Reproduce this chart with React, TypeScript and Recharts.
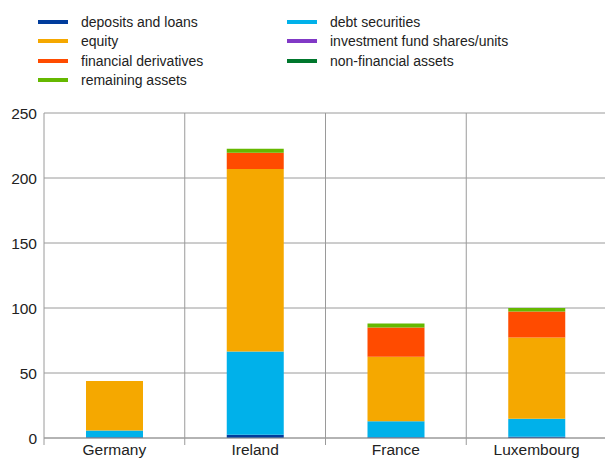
import { BarChart, Bar, XAxis, YAxis, CartesianGrid } from 'recharts';

const countries = ['Germany', 'Ireland', 'France', 'Luxembourg'];

const depositsAndLoans = [0.5, 2.5, 0.5, 1];
const debtSecurities = [5.3, 64, 12.3, 13.8];
const equity = [38, 140.5, 49.7, 62.6];
const investmentFundShares = [0, 0, 0, 0];
const financialDerivatives = [0, 12.5, 22.5, 20];
const nonFinancialAssets = [0, 0, 0, 0];
const remainingAssets = [0, 3, 3, 2.6];

const yTicks = [0, 50, 100, 150, 200, 250];

const series = [
  { key: 'deposits', name: 'deposits and loans', color: '#003c9c', values: depositsAndLoans },
  { key: 'debt', name: 'debt securities', color: '#00b1ea', values: debtSecurities },
  { key: 'equity', name: 'equity', color: '#f5a800', values: equity },
  { key: 'funds', name: 'investment fund shares/units', color: '#8139c6', values: investmentFundShares },
  { key: 'derivatives', name: 'financial derivatives', color: '#ff4b00', values: financialDerivatives },
  { key: 'nonfin', name: 'non-financial assets', color: '#00772d', values: nonFinancialAssets },
  { key: 'remaining', name: 'remaining assets', color: '#65b800', values: remainingAssets },
];

const data = countries.map((name, i) => {
  const row: Record<string, string | number> = { name };
  series.forEach((s) => {
    row[s.key] = s.values[i];
  });
  return row;
});

const gridColor = '#9a9a9a';
const textColor = '#222';
const font = '"Liberation Sans", Arial, sans-serif';

// category label plus the short tick mark at the left boundary of each category
function CountryTick(props: any) {
  const { x, y, payload } = props;
  const half = payload.offset || 0;
  const axisY = y - 6;
  return (
    <g>
      <line x1={x - half} x2={x - half} y1={axisY} y2={axisY + 7} stroke={gridColor} />
      <text x={x} y={y} dy="0.71em" textAnchor="middle" fill={textColor} fontSize={15.5} fontFamily={font}>
        {payload.value}
      </text>
    </g>
  );
}

function LegendBlock() {
  return (
    <div
      style={{
        position: 'absolute',
        left: 38,
        top: 12,
        display: 'grid',
        gridTemplateColumns: '249px 260px',
        fontFamily: font,
        fontSize: 14,
        color: textColor,
      }}
    >
      {series.map((s) => (
        <div key={s.key} style={{ display: 'flex', alignItems: 'center', height: 19.5 }}>
          <span style={{ width: 30, height: 4, background: s.color, marginRight: 13 }} />
          <span>{s.name}</span>
        </div>
      ))}
    </div>
  );
}

export default function App() {
  return (
    <div style={{ position: 'absolute', left: 0, top: 0, width: 605, height: 468, background: '#fff', overflow: 'hidden' }}>
      <LegendBlock />
      <BarChart
        width={605}
        height={468}
        data={data}
        margin={{ top: 113, right: -2, left: 0, bottom: 0 }}
        style={{ fontFamily: font }}
      >
        <CartesianGrid
          stroke={gridColor}
          strokeWidth={1}
          verticalCoordinatesGenerator={({ offset }: any) =>
            countries.map((_, i) => offset.left + (i * offset.width) / countries.length)
          }
        />
        <XAxis
          dataKey="name"
          height={30}
          axisLine={{ stroke: gridColor }}
          tickLine={false}
          tickSize={0}
          tickMargin={6}
          tick={<CountryTick />}
          interval={0}
        />
        <YAxis
          width={44}
          domain={[0, 250]}
          ticks={yTicks}
          axisLine={false}
          tickLine={false}
          tickSize={4}
          tickMargin={3}
          tick={{ fill: textColor, fontSize: 15.5 }}
        />
        {series.map((s) => (
          <Bar
            key={s.key}
            dataKey={s.key}
            name={s.name}
            stackId="a"
            fill={s.color}
            barSize={57}
            isAnimationActive={false}
          />
        ))}
      </BarChart>
    </div>
  );
}
